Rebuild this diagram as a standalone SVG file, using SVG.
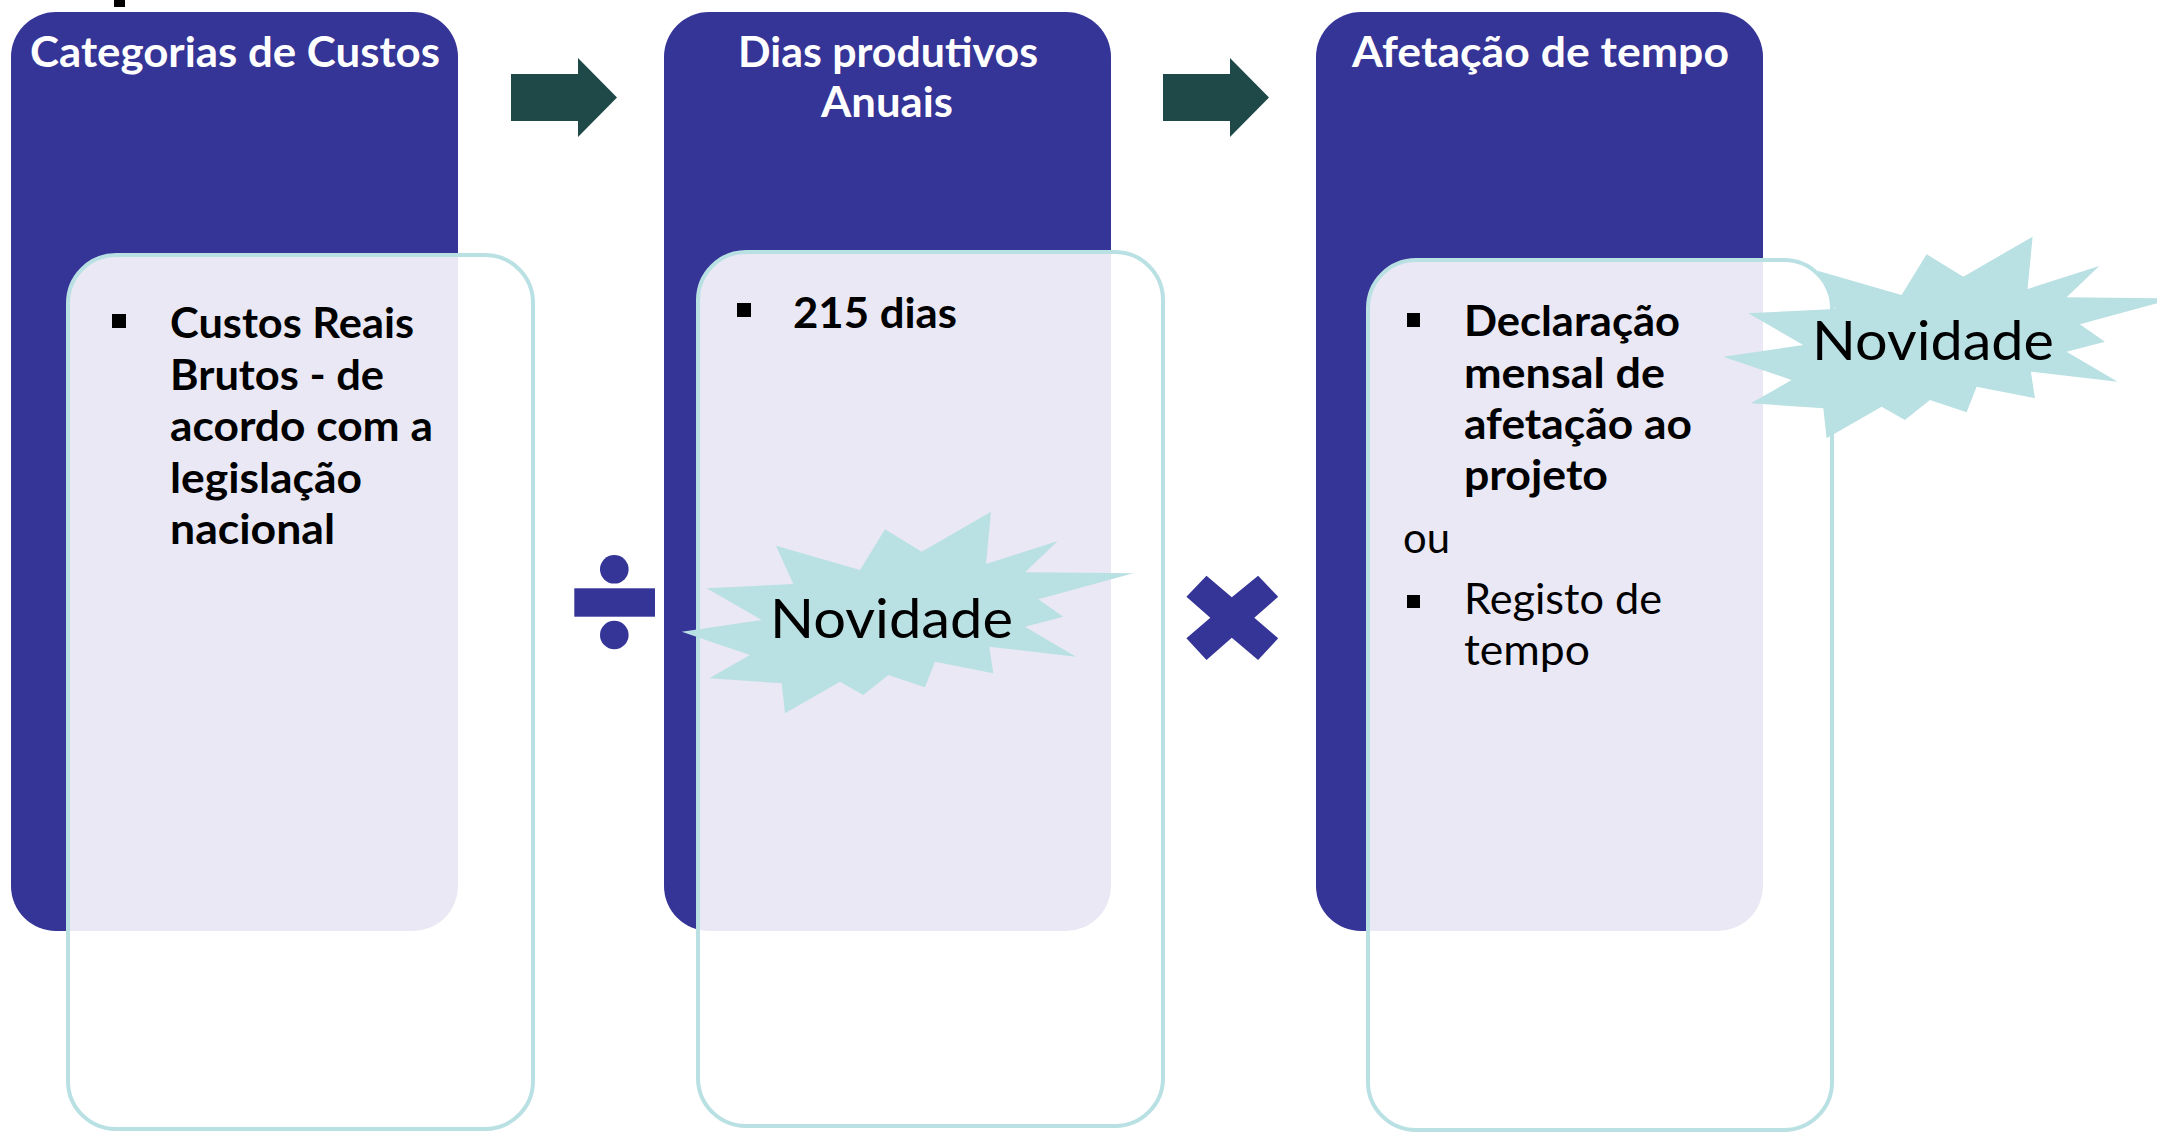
<svg xmlns="http://www.w3.org/2000/svg" xmlns:xlink="http://www.w3.org/1999/xlink" width="2157" height="1133" viewBox="0 0 2157 1133">
  <style>
    .hdr { fill: #353497; }
    .box { fill: #ffffff; fill-opacity: 0.89; stroke: #B9E0E3; stroke-width: 4; }
    .title { font-family: Lato, "Liberation Sans", sans-serif; font-weight: 700; font-size: 42px; fill: #ffffff; }
    .b { font-family: Lato, "Liberation Sans", sans-serif; font-weight: 700; font-size: 42px; fill: #000000; }
    .r { font-family: Lato, "Liberation Sans", sans-serif; font-weight: 400; font-size: 42px; fill: #000000; }
    .nov { font-family: Lato, "Liberation Sans", sans-serif; font-weight: 400; font-size: 55px; fill: #000000; }
    .bullet { fill: #000000; }
    .burst { fill: #B9E0E3; }
    .arrow { fill: #1F4848; }
    .op { fill: #353497; }
  </style>
  <defs>
    <polygon id="burst" points="681.7,631.7 761.7,620 706.7,588.3 793.3,584 776,545.7 860,570 885,529.3 921.7,551.7 991,511.7 986,564 1057.7,541 1025,572.3 1133.3,573.3 1038.3,599.3 1063.3,616.7 1025,626.7 1076,656.7 989.3,646.7 993.3,673.3 935,661.7 925,687.3 888.3,675 863.3,695 840,681.7 785,713.3 781.7,683.3 709.3,678.3 750,655"/>
    <polygon id="arrowShape" points="511,74 578,74 578,58 617,97.5 578,137 578,121 511,121"/>
  </defs>

  <rect x="114" y="0" width="11" height="7" fill="#000000"/>

  <g id="node-categorias">
    <rect class="hdr" x="11" y="12" width="447" height="919" rx="45" ry="45"/>
    <text class="title" x="30" y="67" textLength="410" lengthAdjust="spacingAndGlyphs">Categorias de Custos</text>
    <rect class="box" x="68" y="255" width="465" height="874" rx="48" ry="48"/>
    <rect class="bullet" x="112" y="314" width="14" height="14"/>
    <text class="b" x="170" y="338" textLength="244" lengthAdjust="spacingAndGlyphs">Custos Reais</text>
    <text class="b" x="170" y="389.5" textLength="214" lengthAdjust="spacingAndGlyphs">Brutos - de</text>
    <text class="b" x="170" y="441" textLength="263" lengthAdjust="spacingAndGlyphs">acordo com a</text>
    <text class="b" x="170" y="492.5" textLength="192" lengthAdjust="spacingAndGlyphs">legislação</text>
    <text class="b" x="170" y="544" textLength="165" lengthAdjust="spacingAndGlyphs">nacional</text>
  </g>

  <g id="node-dias">
    <rect class="hdr" x="664" y="12" width="447" height="919" rx="45" ry="45"/>
    <text class="title" x="888" y="67" text-anchor="middle" textLength="300" lengthAdjust="spacingAndGlyphs">Dias produtivos</text>
    <text class="title" x="887" y="117" text-anchor="middle" textLength="132" lengthAdjust="spacingAndGlyphs">Anuais</text>
    <rect class="box" x="698" y="252" width="465" height="874" rx="48" ry="48"/>
    <rect class="bullet" x="737" y="303" width="14" height="14"/>
    <text class="b" x="793" y="328" textLength="164" lengthAdjust="spacingAndGlyphs">215 dias</text>
  </g>

  <g id="node-afetacao">
    <rect class="hdr" x="1316" y="12" width="447" height="919" rx="45" ry="45"/>
    <text class="title" x="1352" y="67" textLength="377" lengthAdjust="spacingAndGlyphs">Afetação de tempo</text>
    <rect class="box" x="1368" y="260" width="464" height="870" rx="48" ry="48"/>
    <rect class="bullet" x="1407" y="313" width="13" height="14"/>
    <text class="b" x="1464" y="336" textLength="216" lengthAdjust="spacingAndGlyphs">Declaração</text>
    <text class="b" x="1464" y="387.5" textLength="201" lengthAdjust="spacingAndGlyphs">mensal de</text>
    <text class="b" x="1464" y="439" textLength="228" lengthAdjust="spacingAndGlyphs">afetação ao</text>
    <text class="b" x="1464" y="490" textLength="144" lengthAdjust="spacingAndGlyphs">projeto</text>
    <text class="r" x="1403" y="553" textLength="47" lengthAdjust="spacingAndGlyphs">ou</text>
    <rect class="bullet" x="1407" y="595" width="13" height="13"/>
    <text class="r" x="1464" y="614" textLength="198" lengthAdjust="spacingAndGlyphs">Registo de</text>
    <text class="r" x="1464" y="665" textLength="126" lengthAdjust="spacingAndGlyphs">tempo</text>
  </g>

  <g id="operators">
    <g id="op-divide">
      <circle class="op" cx="614.3" cy="569.3" r="14.3"/>
      <rect class="op" x="574.3" y="588.3" width="80.7" height="28.4"/>
      <circle class="op" cx="614.3" cy="635" r="14.3"/>
    </g>
    <polygon id="op-multiply" class="op" points="1186.4,596.7 1206.5,575.7 1231.8,597.3 1258.1,575.7 1278.2,596.7 1254.3,617.7 1278.2,638.3 1258.1,660 1231.8,637.7 1206.5,660 1186.4,638.3 1210.3,617.7"/>
  </g>

  <g id="novidade-1">
    <use xlink:href="#burst" href="#burst" class="burst"/>
    <text class="nov" x="770" y="638" textLength="243" lengthAdjust="spacingAndGlyphs">Novidade</text>
  </g>

  <g id="novidade-2">
    <use xlink:href="#burst" href="#burst" class="burst" transform="translate(1041.6,-275)"/>
    <text class="nov" x="1812" y="360" textLength="242" lengthAdjust="spacingAndGlyphs">Novidade</text>
  </g>

  <g id="connectors">
    <use xlink:href="#arrowShape" href="#arrowShape" class="arrow"/>
    <use xlink:href="#arrowShape" href="#arrowShape" class="arrow" transform="translate(652,0)"/>
  </g>
</svg>
